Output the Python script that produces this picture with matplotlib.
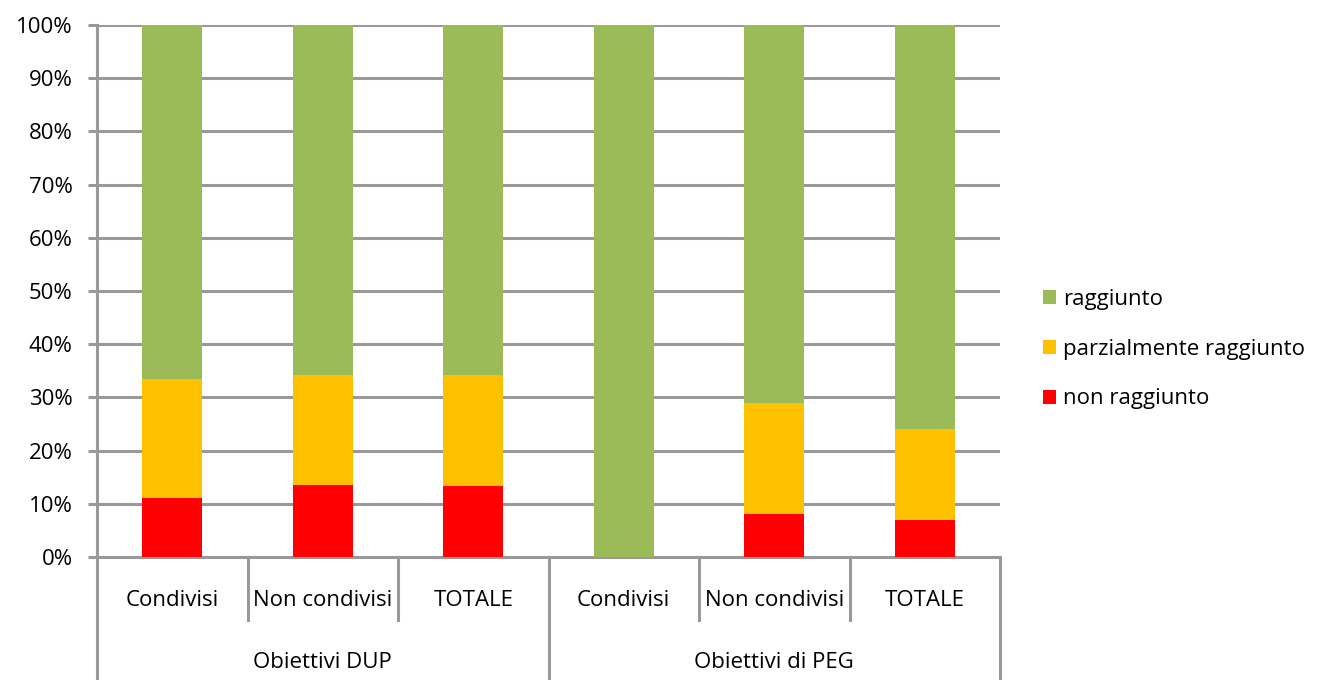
import numpy as np
import matplotlib
matplotlib.use('Agg')
import matplotlib.pyplot as plt

plt.rcParams['font.family'] = ['Open Sans', 'DejaVu Sans']

categories = ['Condivisi', 'Non condivisi', 'TOTALE', 'Condivisi', 'Non condivisi', 'TOTALE']
groups = ['Obiettivi DUP', 'Obiettivi di PEG']
non_raggiunto = [11.0, 13.6, 13.3, 0.0, 8.1, 7.0]
parziale = [22.5, 20.6, 20.9, 0.0, 20.8, 17.1]
raggiunto = [100 - a - b for a, b in zip(non_raggiunto, parziale)]

green = '#9BBB59'
orange = '#FFC000'
red = '#FF0000'
gray = '#999999'
fs = 16

fig = plt.figure(figsize=(13.18, 6.8), dpi=100)
ax = fig.add_axes([97/1318, 1-557/680, (1000-97)/1318, (557-25)/680])

x = np.arange(len(categories))
w = 0.4
ax.bar(x, non_raggiunto, w, color=red, label='non raggiunto', zorder=3)
ax.bar(x, parziale, w, bottom=non_raggiunto, color=orange, label='parzialmente raggiunto', zorder=3)
bott = [a + b for a, b in zip(non_raggiunto, parziale)]
ax.bar(x, raggiunto, w, bottom=bott, color=green, label='raggiunto', zorder=3)

ax.set_xlim(-0.5, 5.5)
ax.set_ylim(0, 100)
ax.set_yticks(np.arange(0, 101, 10))
ax.set_yticklabels(['%d%%' % v for v in range(0, 101, 10)], fontsize=fs)
ax.yaxis.grid(True, color=gray, linewidth=2.2, zorder=0)
ax.tick_params(axis='y', length=6.5, width=2.2, color=gray, pad=11)
ax.set_xticks([])
for s in ['top', 'right']:
    ax.spines[s].set_visible(False)
ax.spines['left'].set_color(gray)
ax.spines['left'].set_linewidth(2.2)
ax.spines['bottom'].set_color(gray)
ax.spines['bottom'].set_linewidth(2.2)

# category separators
tr = ax.get_xaxis_transform()
for xs in [0.5, 1.5, 3.5, 4.5]:
    ax.plot([xs, xs], [0, -0.118], color=gray, lw=2.2, transform=tr, clip_on=False)
for xs in [-0.5, 2.5, 5.5]:
    ax.plot([xs, xs], [0, -0.25], color=gray, lw=2.2, transform=tr, clip_on=False)

for i, c in enumerate(categories):
    ax.text(i, -0.081, c, transform=tr, ha='center', va='center', fontsize=fs)
for j, g in enumerate(groups):
    ax.text(1 + 3*j, -0.198, g, transform=tr, ha='center', va='center', fontsize=fs)

h, l = ax.get_legend_handles_labels()
fig.legend(h[::-1], l[::-1], loc='center left', bbox_to_anchor=(1023/1318, 1-349/680),
           frameon=False, fontsize=fs, handlelength=0.6, handleheight=0.6,
           handletextpad=0.3, labelspacing=1.3)

fig.savefig('out.png', dpi=100)
